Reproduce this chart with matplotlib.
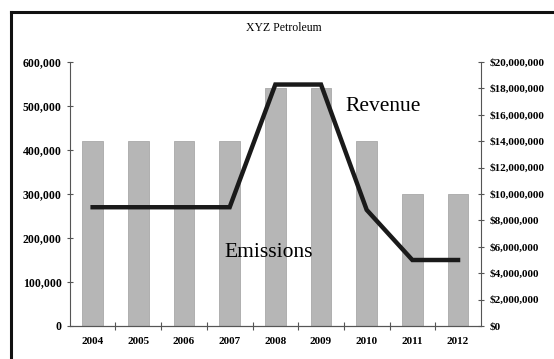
import matplotlib.pyplot as plt
from matplotlib.lines import Line2D
from matplotlib.ticker import FuncFormatter, MultipleLocator

years = ["2004", "2005", "2006", "2007", "2008", "2009", "2010", "2011", "2012"]
emissions = [420000, 420000, 420000, 420000, 540000, 540000, 420000, 300000, 300000]
revenue = [9000000, 9000000, 9000000, 9000000, 18300000, 18300000, 8800000, 5000000, 5000000]

plt.rcParams['font.family'] = ['Liberation Serif', 'DejaVu Serif']

fig = plt.figure(figsize=(5.54, 3.59), dpi=100)
ax = fig.add_axes([0.126, 0.092, 0.742, 0.735])
x = range(len(years))

ax.bar(x, emissions, width=0.45, color='#b6b6b6', edgecolor='#a8a8a8', linewidth=0.6, zorder=2)
ax.set_xlim(-0.5, len(years) - 0.5)
ax.set_ylim(0, 600000)
ax.yaxis.set_major_locator(MultipleLocator(100000))
ax.yaxis.set_major_formatter(FuncFormatter(lambda v, p: f"{int(v):,}"))
ax.set_xticks(list(x))
ax.set_xticklabels(years)
ax.set_xticks([i + 0.5 for i in range(len(years) - 1)], minor=True)

ax2 = ax.twinx()
ax2.plot(x, revenue, color='#1a1a1a', linewidth=3.2, solid_joinstyle='miter', zorder=3)
ax2.set_ylim(0, 20000000)
ax2.yaxis.set_major_locator(MultipleLocator(2000000))
ax2.yaxis.set_major_formatter(FuncFormatter(lambda v, p: f"${int(v):,}"))

for a in (ax, ax2):
    a.spines["top"].set_visible(False)
    for s in ("left", "right", "bottom"):
        a.spines[s].set_color('#555555')
    a.tick_params(axis='both', which='both', direction='inout', length=5, width=0.8,
                  color='#555555', labelsize=8)
ax.spines["right"].set_visible(False)
ax2.spines["left"].set_visible(False)
ax.tick_params(axis='y', labelsize=8.5)
ax.tick_params(axis='x', which='major', length=0, pad=8)
ax.tick_params(axis='x', which='minor', length=6)
for lbl in ax.get_yticklabels() + ax2.get_yticklabels() + ax.get_xticklabels():
    lbl.set_fontweight('bold')

ax.text(5.54, 498000, "Revenue", fontsize=15.5, ha='left', va='center', zorder=5)
ax.text(3.85, 168000, "Emissions", fontsize=15.5, ha='center', va='center', zorder=5)
ax2.set_zorder(ax.get_zorder() + 1)
ax2.patch.set_visible(False)

fig.text(0.513, 0.922, "XYZ Petroleum", fontsize=8.5, ha='center', va='center')

# chart frame: only top and left edges fall inside the image
fig.add_artist(Line2D([0.02, 1.0], [0.966, 0.966], color='#111111', linewidth=2.2))
fig.add_artist(Line2D([0.02, 0.02], [0.0, 0.966], color='#111111', linewidth=2.2))

plt.savefig("out.png", dpi=100)
